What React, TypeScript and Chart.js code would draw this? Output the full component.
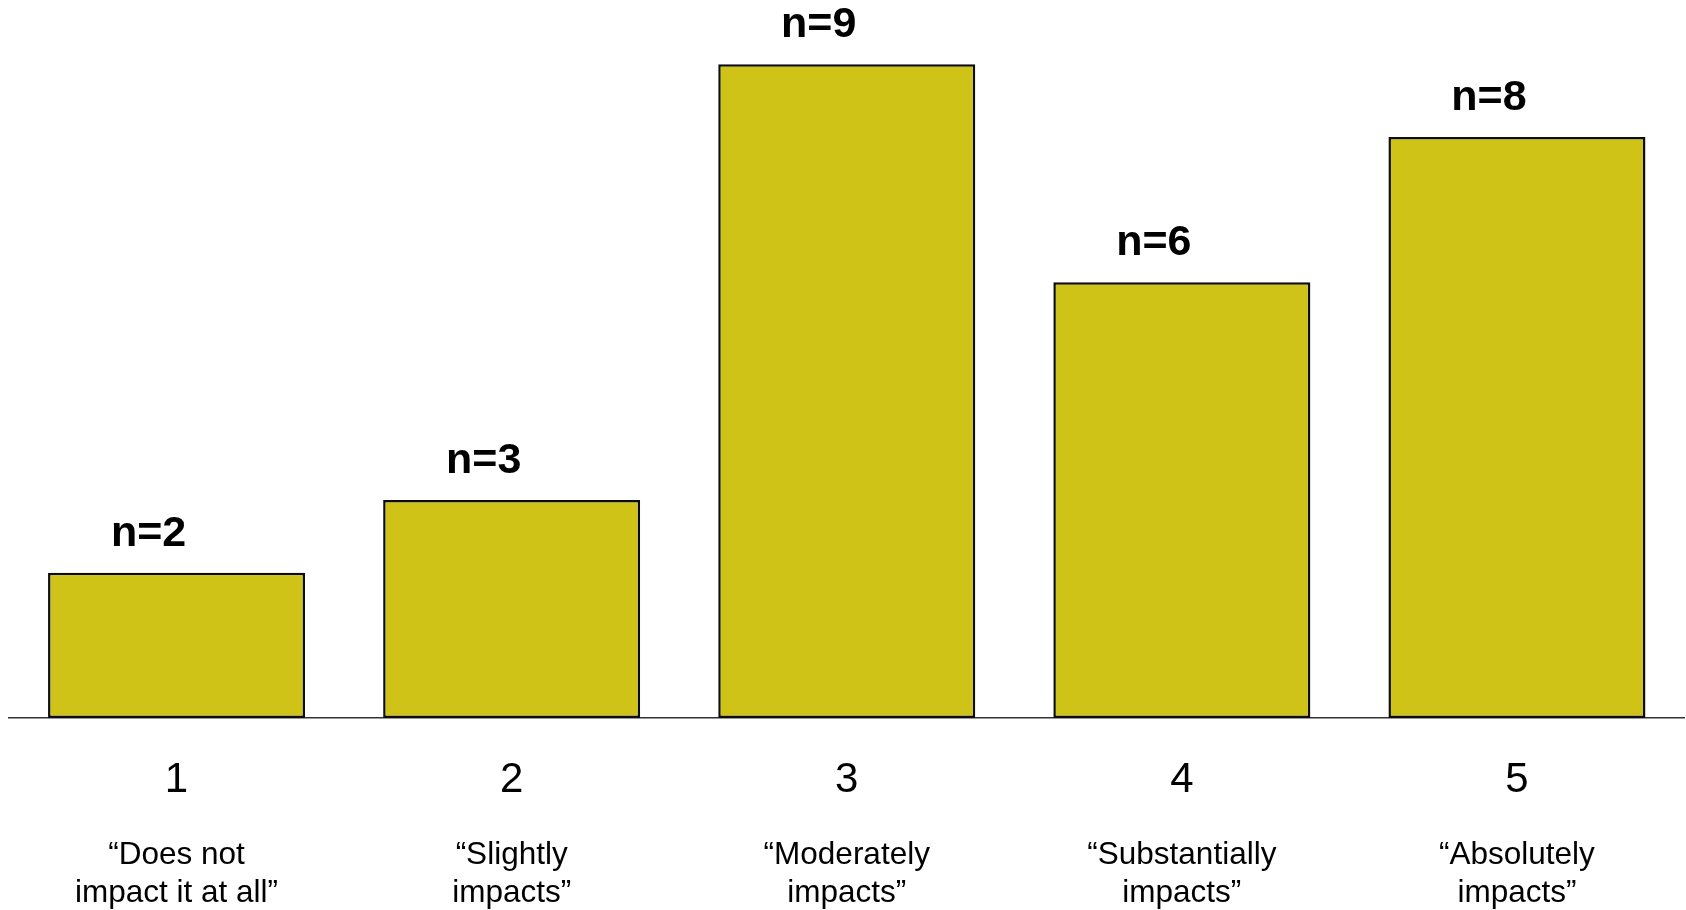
import { useEffect, useRef } from 'react';
import { Chart, registerables } from 'chart.js';

Chart.register(...registerables);

// Rating scale shown under each bar
const ratings = ['1', '2', '3', '4', '5'];

// Verbal anchor for each rating, split over two lines
const ratingDescriptions = [
  ['“Does not', 'impact it at all”'],
  ['“Slightly', 'impacts”'],
  ['“Moderately', 'impacts”'],
  ['“Substantially', 'impacts”'],
  ['“Absolutely', 'impacts”'],
];

// Number of respondents choosing each rating
const respondentCounts = [2, 3, 9, 6, 8];

const FONT = '"Liberation Sans", Arial, Helvetica, sans-serif';

// Writes "n=<count>" above every bar
const countLabels = {
  id: 'countLabels',
  afterDatasetsDraw(chart: any) {
    const { ctx } = chart;
    const meta = chart.getDatasetMeta(0);
    const values = chart.data.datasets[0].data as number[];
    ctx.save();
    ctx.font = `bold 43px ${FONT}`;
    ctx.fillStyle = '#000';
    ctx.textAlign = 'center';
    ctx.textBaseline = 'alphabetic';
    meta.data.forEach((bar: any, i: number) => {
      ctx.fillText(`n=${values[i]}`, bar.x - 28, bar.y - 27);
    });
    ctx.restore();
  },
};

export default function App() {
  const canvasRef = useRef<HTMLCanvasElement | null>(null);

  useEffect(() => {
    if (!canvasRef.current) return;
    const chart = new Chart(canvasRef.current, {
      type: 'bar',
      data: {
        labels: ratings,
        datasets: [
          {
            data: respondentCounts,
            backgroundColor: '#cfc317',
            borderColor: '#0d0d0d',
            borderWidth: 2.5,
            borderSkipped: false,
            barPercentage: 0.767,
            categoryPercentage: 1.0,
          },
        ],
      },
      options: {
        animation: false,
        responsive: false,
        layout: { padding: { top: 28, left: 9, right: 1.5, bottom: 0 } },
        plugins: {
          legend: { display: false },
          tooltip: { enabled: false },
        },
        scales: {
          y: { display: false, min: 0, max: 9.5 },
          x: {
            grid: { display: false, drawTicks: false },
            border: { display: true, color: '#333333', width: 1.5 },
            ticks: {
              color: '#000',
              maxRotation: 0,
              autoSkip: false,
              padding: 37,
              font: { family: FONT, size: 42, lineHeight: 1.2 },
            },
            afterFit: (s: any) => {
              s.height = 112;
            },
          },
          x2: {
            type: 'category',
            position: 'bottom',
            labels: ratingDescriptions as any,
            offset: true,
            weight: 1,
            grid: { display: false, drawTicks: false },
            border: { display: false },
            ticks: {
              color: '#000',
              maxRotation: 0,
              autoSkip: false,
              padding: 7,
              font: { family: FONT, size: 31.5, lineHeight: '37.5px' },
            },
            afterFit: (s: any) => {
              s.height = 80;
            },
          },
        },
      },
      plugins: [countLabels],
    });
    return () => chart.destroy();
  }, []);

  return (
    <div style={{ position: 'fixed', top: 0, left: 0, width: 1686, height: 910, background: '#fff' }}>
      <canvas ref={canvasRef} width={1686} height={910} style={{ display: 'block' }} />
    </div>
  );
}
